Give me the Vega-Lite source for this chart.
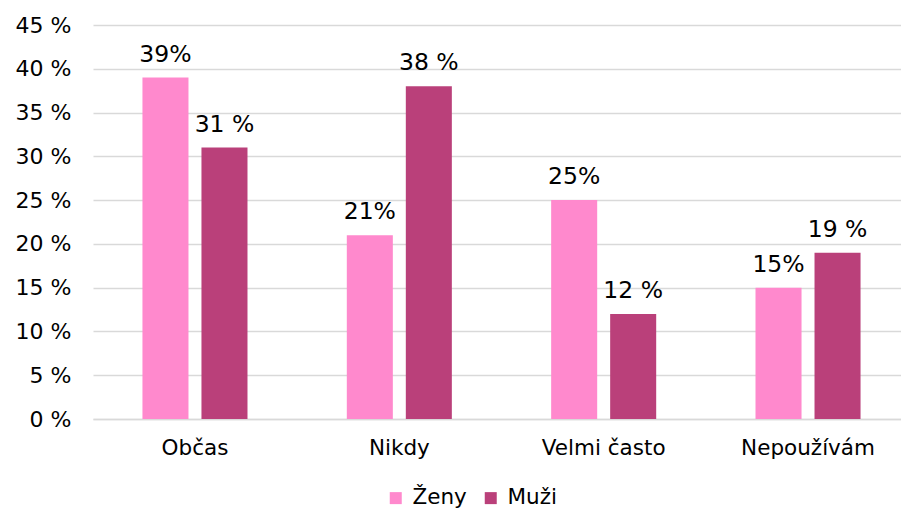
{
  "$schema": "https://vega.github.io/schema/vega-lite/v6.json",
  "width": 817,
  "height": 394,
  "autosize": {"type": "none"},
  "padding": {"left": 93, "top": 25, "right": 0, "bottom": 90},
  "background": "white",
  "config": {
    "view": {"stroke": null},
    "font": "DejaVu Sans"
  },
  "data": {
    "values": [
      {"category": "Občas", "sex": "Ženy", "value": 39},
      {"category": "Občas", "sex": "Muži", "value": 31},
      {"category": "Nikdy", "sex": "Ženy", "value": 21},
      {"category": "Nikdy", "sex": "Muži", "value": 38},
      {"category": "Velmi často", "sex": "Ženy", "value": 25},
      {"category": "Velmi často", "sex": "Muži", "value": 12},
      {"category": "Nepoužívám", "sex": "Ženy", "value": 15},
      {"category": "Nepoužívám", "sex": "Muži", "value": 19}
    ]
  },
  "transform": [
    {"calculate": "datum.sex == 'Ženy' ? datum.value + '%' : datum.value + ' %'", "as": "label"}
  ],
  "encoding": {
    "x": {
      "field": "category",
      "type": "nominal",
      "sort": ["Občas", "Nikdy", "Velmi často", "Nepoužívám"],
      "scale": {"paddingInner": 0.486, "paddingOuter": 0.242},
      "axis": {
        "title": null,
        "labelAngle": 0,
        "labelFontSize": 21.5,
        "labelColor": "#000000",
        "labelPadding": 18,
        "ticks": false,
        "domain": true,
        "domainColor": "#D9D9D9",
        "domainWidth": 1.5
      }
    },
    "xOffset": {
      "field": "sex",
      "type": "nominal",
      "sort": ["Ženy", "Muži"],
      "scale": {"paddingInner": 0.22, "paddingOuter": 0}
    },
    "y": {
      "field": "value",
      "type": "quantitative",
      "scale": {"domain": [0, 45], "nice": false},
      "axis": {
        "title": null,
        "values": [0, 5, 10, 15, 20, 25, 30, 35, 40, 45],
        "labelExpr": "datum.value + ' %'",
        "labelFontSize": 22,
        "labelColor": "#000000",
        "labelPadding": 22,
        "ticks": false,
        "domain": false,
        "gridColor": "#D9D9D9",
        "gridWidth": 1.5
      }
    }
  },
  "layer": [
    {
      "mark": {"type": "bar"},
      "encoding": {
        "color": {
          "field": "sex",
          "type": "nominal",
          "sort": ["Ženy", "Muži"],
          "scale": {"domain": ["Ženy", "Muži"], "range": ["#FF89CD", "#BA407A"]},
          "legend": {
            "title": null,
            "orient": "none",
            "direction": "horizontal",
            "legendX": 292,
            "legendY": 462,
            "symbolType": "square",
            "symbolSize": 144,
            "symbolStrokeWidth": 0,
            "labelFontSize": 21.5,
            "labelColor": "#000000",
            "columnPadding": 13,
            "labelOffset": 6
          }
        }
      }
    },
    {
      "mark": {"type": "text", "baseline": "alphabetic", "dy": -16, "fontSize": 23.5, "color": "#000000"},
      "encoding": {
        "text": {"field": "label"}
      }
    }
  ]
}
